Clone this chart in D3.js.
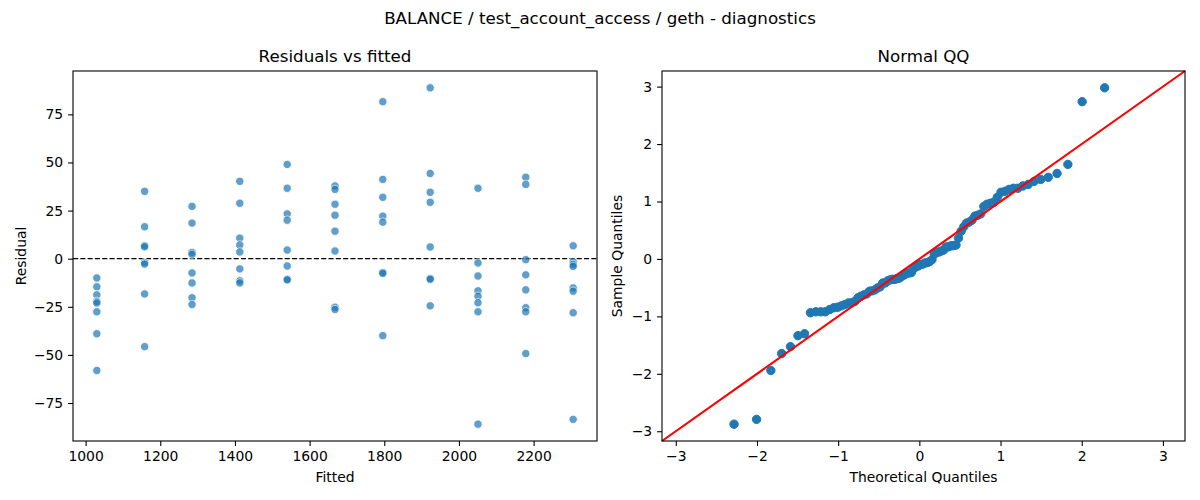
<!DOCTYPE html>
<html>
<head>
<meta charset="utf-8">
<script src="https://cdn.jsdelivr.net/npm/d3@7"></script>
<style>
  html, body { margin: 0; padding: 0; background: #fff; }
  svg { display: block; font-family: "DejaVu Sans", sans-serif; }
</style>
</head>
<body>
<svg id="chart" width="1200" height="500"></svg>
<script>
// ---------------- DATA ----------------
const suptitle = "BALANCE / test_account_access / geth - diagnostics";
const leftTitle = "Residuals vs fitted";
const rightTitle = "Normal QQ";

// fitted value of each group (x positions of the vertical stacks)
const fittedLevels = [1030, 1158, 1285, 1413, 1540, 1668, 1796, 1923, 2051, 2179, 2306];

// residuals read for each fitted level
const residualsByLevel = [
  [-10.0, -14.6, -18.8, -22.2, -23.0, -27.6, -39.0, -58.1],
  [35.0, 16.6, 6.8, 6.2, -2.0, -2.8, -18.3, -45.7],
  [27.2, 18.5, 3.3, 2.3, -7.4, -12.6, -20.3, -23.8],
  [40.2, 28.8, 10.7, 7.1, 3.5, -5.3, -11.5, -12.6],
  [49.0, 36.6, 23.3, 20.0, 4.5, -3.8, -10.7, -11.0],
  [37.8, 36.0, 28.3, 22.6, 14.3, 4.0, -25.2, -26.4],
  [81.6, 41.2, 31.9, 22.1, 19.0, -7.2, -7.6, -40.0],
  [88.8, 44.3, 34.5, 29.3, 6.1, -10.3, -10.7, -24.5],
  [36.6, -2.2, -9.0, -16.7, -19.5, -22.9, -27.6, -86.0],
  [42.3, 38.6, -0.5, -8.4, -16.2, -25.5, -27.6, -49.3],
  [6.7, -1.5, -3.0, -4.0, -15.2, -16.9, -28.1, -83.5]
];

const leftXTicks = [1000, 1200, 1400, 1600, 1800, 2000, 2200];
const leftYTicks = [-75, -50, -25, 0, 25, 50, 75];
const qqTicks = [-3, -2, -1, 0, 1, 2, 3];

// ---------------- HELPERS ----------------
// inverse standard normal CDF (Acklam)
function normInv(p) {
  const a = [-3.969683028665376e+01, 2.209460984245205e+02, -2.759285104469687e+02, 1.383577518672690e+02, -3.066479806614716e+01, 2.506628277459239e+00];
  const b = [-5.447609879822406e+01, 1.615858368580409e+02, -1.556989798598866e+02, 6.680131188771972e+01, -1.328068155288572e+01];
  const c = [-7.784894002430293e-03, -3.223964580411365e-01, -2.400758277161838e+00, -2.549732539343734e+00, 4.374664141464968e+00, 2.938163982698783e+00];
  const d = [7.784695709041462e-03, 3.224671290700398e-01, 2.445134137142996e+00, 3.754408661907416e+00];
  const pl = 0.02425, ph = 1 - pl;
  let q, r;
  if (p < pl) {
    q = Math.sqrt(-2 * Math.log(p));
    return (((((c[0]*q+c[1])*q+c[2])*q+c[3])*q+c[4])*q+c[5]) / ((((d[0]*q+d[1])*q+d[2])*q+d[3])*q+1);
  } else if (p <= ph) {
    q = p - 0.5; r = q*q;
    return (((((a[0]*r+a[1])*r+a[2])*r+a[3])*r+a[4])*r+a[5])*q / (((((b[0]*r+b[1])*r+b[2])*r+b[3])*r+b[4])*r+1);
  } else {
    q = Math.sqrt(-2 * Math.log(1 - p));
    return -(((((c[0]*q+c[1])*q+c[2])*q+c[3])*q+c[4])*q+c[5]) / ((((d[0]*q+d[1])*q+d[2])*q+d[3])*q+1);
  }
}
function padded(ext, frac) {
  const span = ext[1] - ext[0];
  return [ext[0] - span * frac, ext[1] + span * frac];
}

// ---------------- DERIVED ----------------
const points = [];
fittedLevels.forEach((f, i) => residualsByLevel[i].forEach(r => points.push({ fitted: f, resid: r })));
const allRes = points.map(p => p.resid);
const n = allRes.length;
const mean = d3.mean(allRes);
const sd = Math.sqrt(d3.mean(allRes, v => (v - mean) * (v - mean)));
const sample = allRes.map(v => (v - mean) / sd).sort(d3.ascending);
const theo = sample.map((_, i) => normInv((i + 1) / (n + 1)));
const qq = sample.map((s, i) => ({ t: theo[i], s }));

// ---------------- LAYOUT ----------------
const svg = d3.select("#chart");
const tickFont = 13.9, labelFont = 13.9, titleFont = 16.7;
const L = { x0: 73, x1: 597, y0: 71, y1: 441 };
const R = { x0: 662, x1: 1185, y0: 71, y1: 441 };

svg.append("text").attr("x", 600).attr("y", 24).attr("text-anchor", "middle")
  .attr("font-size", titleFont).attr("fill", "#000").text(suptitle);

function styleAxis(g) {
  g.select(".domain").remove();
  g.selectAll(".tick line").attr("stroke", "#000").attr("stroke-width", 1.1);
  g.selectAll(".tick text").attr("font-size", tickFont).attr("fill", "#000")
    .attr("font-family", "DejaVu Sans, sans-serif");
}
function frame(P) {
  svg.append("rect").attr("x", P.x0).attr("y", P.y0)
    .attr("width", P.x1 - P.x0).attr("height", P.y1 - P.y0)
    .attr("fill", "none").attr("stroke", "#000").attr("stroke-width", 1.1);
}

// ---------------- LEFT PANEL ----------------
const lx = d3.scaleLinear().domain(padded(d3.extent(points, p => p.fitted), 0.05)).range([L.x0, L.x1]);
const ly = d3.scaleLinear().domain(padded(d3.extent(points, p => p.resid), 0.05)).range([L.y1, L.y0]);

const fmt = d3.format("d");
svg.append("g").attr("transform", `translate(0,${L.y1})`)
  .call(d3.axisBottom(lx).tickValues(leftXTicks).tickFormat(fmt).tickSize(4.9).tickPadding(4.9))
  .call(styleAxis);
svg.append("g").attr("transform", `translate(${L.x0},0)`)
  .call(d3.axisLeft(ly).tickValues(leftYTicks).tickFormat(fmt).tickSize(4.9).tickPadding(4.9))
  .call(styleAxis);

svg.append("line").attr("x1", L.x0).attr("x2", L.x1)
  .attr("y1", ly(0)).attr("y2", ly(0))
  .attr("stroke", "#000").attr("stroke-width", 1.2).attr("stroke-dasharray", "5.1,2.2");

svg.append("g").selectAll("circle").data(points).join("circle")
  .attr("cx", d => lx(d.fitted)).attr("cy", d => ly(d.resid)).attr("r", 4.2)
  .attr("fill", "#1f77b4").attr("stroke", "#fff").attr("stroke-width", 0.9)
  .attr("opacity", 0.7);

frame(L);
svg.append("text").attr("x", (L.x0 + L.x1) / 2).attr("y", 62).attr("text-anchor", "middle")
  .attr("font-size", titleFont).text(leftTitle);
svg.append("text").attr("x", (L.x0 + L.x1) / 2).attr("y", 482).attr("text-anchor", "middle")
  .attr("font-size", labelFont).text("Fitted");
svg.append("text").attr("transform", `translate(26,${(L.y0 + L.y1) / 2}) rotate(-90)`)
  .attr("text-anchor", "middle").attr("font-size", labelFont).text("Residual");

// ---------------- RIGHT PANEL ----------------
const tx = padded(d3.extent(theo), 0.05);
const sy = padded(d3.extent(sample), 0.05);
const lim = [Math.min(tx[0], sy[0]), Math.max(tx[1], sy[1])];
const rx = d3.scaleLinear().domain(lim).range([R.x0, R.x1]);
const ry = d3.scaleLinear().domain(lim).range([R.y1, R.y0]);

const fmt2 = d3.format("d");
svg.append("g").attr("transform", `translate(0,${R.y1})`)
  .call(d3.axisBottom(rx).tickValues(qqTicks).tickFormat(fmt2).tickSize(4.9).tickPadding(4.9))
  .call(styleAxis);
svg.append("g").attr("transform", `translate(${R.x0},0)`)
  .call(d3.axisLeft(ry).tickValues(qqTicks).tickFormat(fmt2).tickSize(4.9).tickPadding(4.9))
  .call(styleAxis);

svg.append("g").selectAll("circle").data(qq).join("circle")
  .attr("cx", d => rx(d.t)).attr("cy", d => ry(d.s)).attr("r", 4.2)
  .attr("fill", "#1f77b4").attr("stroke", "#1f77b4").attr("stroke-width", 1);

svg.append("line").attr("x1", rx(lim[0])).attr("y1", ry(lim[0]))
  .attr("x2", rx(lim[1])).attr("y2", ry(lim[1]))
  .attr("stroke", "#ff0000").attr("stroke-width", 2.1);

frame(R);
svg.append("text").attr("x", (R.x0 + R.x1) / 2).attr("y", 62).attr("text-anchor", "middle")
  .attr("font-size", titleFont).text(rightTitle);
svg.append("text").attr("x", (R.x0 + R.x1) / 2).attr("y", 482).attr("text-anchor", "middle")
  .attr("font-size", labelFont).text("Theoretical Quantiles");
svg.append("text").attr("transform", `translate(622,${(R.y0 + R.y1) / 2}) rotate(-90)`)
  .attr("text-anchor", "middle").attr("font-size", labelFont).text("Sample Quantiles");
</script>
</body>
</html>
